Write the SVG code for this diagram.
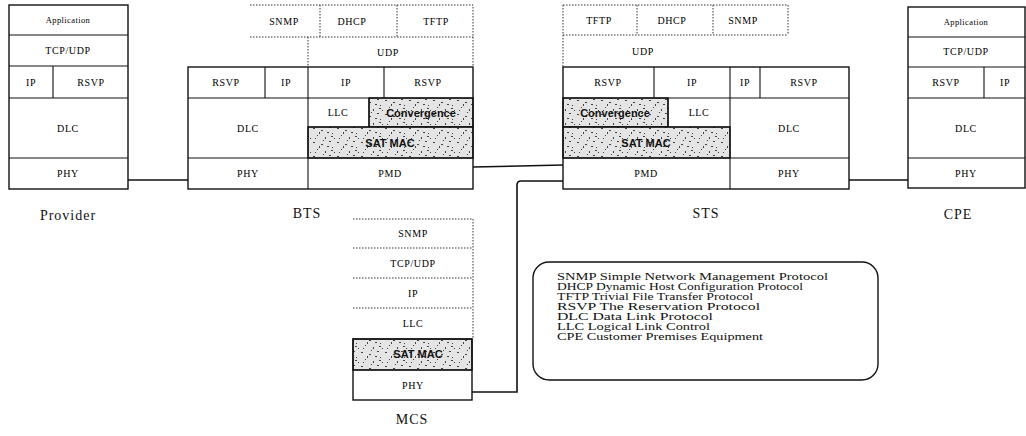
<svg xmlns="http://www.w3.org/2000/svg" width="1026" height="436" viewBox="0 0 1026 436">
<style>
.bx{fill:none;stroke:#111;stroke-width:1.4}
.ln{fill:none;stroke:#111;stroke-width:1.1}
.dt{fill:none;stroke:#333;stroke-width:1;stroke-dasharray:1.5 1.5}
.t{font-family:"Liberation Serif",serif;font-size:10px;fill:#000;text-anchor:middle;letter-spacing:0.6px}
.ts{font-family:"Liberation Serif",serif;font-size:8.5px;fill:#000;text-anchor:middle;letter-spacing:0.4px}
.nm{font-family:"Liberation Serif",serif;font-size:14px;fill:#111;text-anchor:middle;letter-spacing:1px}
.sb{font-family:"Liberation Sans",sans-serif;font-size:11px;font-weight:bold;fill:#111;text-anchor:middle}
.lg{font-family:"Liberation Serif",serif;font-size:11px;fill:#111}
.cn{fill:none;stroke:#111;stroke-width:1.6}
.nz{fill:url(#noise);stroke:#111;stroke-width:1.4}
</style>
<defs>
<pattern id="noise" width="24" height="14" patternUnits="userSpaceOnUse">
<rect width="24" height="14" fill="#e4e4e4"/>
<g fill="#444">
<rect x="1" y="2" width="2" height="1"/><rect x="5" y="9" width="1" height="1"/><rect x="9" y="4" width="2" height="1"/>
<rect x="13" y="11" width="1" height="2"/><rect x="17" y="1" width="2" height="1"/><rect x="20" y="7" width="1" height="1"/>
<rect x="3" y="12" width="1" height="1"/><rect x="11" y="0" width="1" height="1"/><rect x="15" y="6" width="2" height="1"/>
<rect x="22" y="12" width="1" height="1"/><rect x="7" y="6" width="1" height="2"/><rect x="19" y="10" width="2" height="1"/>
</g>
</pattern>
</defs>
<rect width="1026" height="436" fill="#fff"/>

<g id="connectors">
<path class="cn" d="M128 180 H188"/>
<path class="cn" d="M473 167 L563 165"/>
<path class="cn" d="M472 392 H517 V185 Q517 181 521 181 H563"/>
<path class="cn" d="M849 180 H908"/>
</g>

<g id="provider">
<rect class="bx" x="9" y="5" width="119" height="184"/>
<path class="ln" d="M9 35 H128 M9 66 H128 M9 98 H128 M9 158 H128 M53 66 V98"/>
<text class="ts" x="68" y="23">Application</text>
<text class="t" x="68" y="54">TCP/UDP</text>
<text class="t" x="31" y="86">IP</text>
<text class="t" x="91" y="86">RSVP</text>
<text class="t" x="68" y="132">DLC</text>
<text class="t" x="68" y="177">PHY</text>
<text class="nm" x="68" y="220">Provider</text>
</g>

<g id="bts">
<path class="dt" d="M250 5 H473 V67 M250 37 H473 M320 5 V37 M397 5 V37 M308 37 V67"/>
<text class="t" x="284" y="25">SNMP</text>
<text class="t" x="352" y="25">DHCP</text>
<text class="t" x="436" y="25">TFTP</text>
<text class="t" x="388" y="56">UDP</text>
<rect class="nz" x="369" y="98" width="104" height="29"/>
<rect class="nz" x="308" y="127" width="165" height="31"/>
<rect class="bx" x="188" y="67" width="285" height="122"/>
<path class="ln" d="M188 98 H473 M188 158 H473 M265 67 V98 M308 67 V189 M384 67 V98 M369 98 V127 M308 127 H473"/>
<text class="t" x="226" y="86">RSVP</text>
<text class="t" x="286" y="86">IP</text>
<text class="t" x="346" y="86">IP</text>
<text class="t" x="428" y="86">RSVP</text>
<text class="t" x="338" y="116">LLC</text>
<text class="sb" x="421" y="117">Convergence</text>
<text class="t" x="248" y="132">DLC</text>
<text class="sb" x="390" y="147">SAT MAC</text>
<text class="t" x="248" y="177">PHY</text>
<text class="t" x="390" y="177">PMD</text>
<text class="nm" x="307" y="218">BTS</text>
</g>

<g id="sts">
<path class="dt" d="M563 5 H788 V35 M563 5 V67 M563 35 H788 M637 5 V35 M713 5 V35"/>
<text class="t" x="599" y="24">TFTP</text>
<text class="t" x="672" y="24">DHCP</text>
<text class="t" x="743" y="24">SNMP</text>
<text class="t" x="643" y="55">UDP</text>
<rect class="nz" x="563" y="98" width="105" height="29"/>
<rect class="nz" x="563" y="127" width="167" height="31"/>
<rect class="bx" x="563" y="67" width="286" height="122"/>
<path class="ln" d="M563 98 H849 M563 158 H849 M654 67 V98 M730 67 V189 M760 67 V98 M668 98 V127 M563 127 H730"/>
<text class="t" x="608" y="86">RSVP</text>
<text class="t" x="692" y="86">IP</text>
<text class="t" x="745" y="86">IP</text>
<text class="t" x="804" y="86">RSVP</text>
<text class="sb" x="615" y="117">Convergence</text>
<text class="t" x="699" y="116">LLC</text>
<text class="sb" x="646" y="147">SAT MAC</text>
<text class="t" x="789" y="132">DLC</text>
<text class="t" x="646" y="177">PMD</text>
<text class="t" x="789" y="177">PHY</text>
<text class="nm" x="706" y="218">STS</text>
</g>

<g id="cpe">
<rect class="bx" x="908" y="7" width="117" height="181"/>
<path class="ln" d="M908 37 H1025 M908 67 H1025 M908 98 H1025 M908 158 H1025 M984 67 V98"/>
<text class="ts" x="966" y="25">Application</text>
<text class="t" x="966" y="55">TCP/UDP</text>
<text class="t" x="946" y="86">RSVP</text>
<text class="t" x="1005" y="86">IP</text>
<text class="t" x="966" y="132">DLC</text>
<text class="t" x="966" y="177">PHY</text>
<text class="nm" x="958" y="219">CPE</text>
</g>

<g id="mcs">
<path class="dt" d="M353 219 H473 M353 248 H473 M353 278 H473 M353 308 H473 M473 219 V339"/>
<text class="t" x="413" y="237">SNMP</text>
<text class="t" x="413" y="267">TCP/UDP</text>
<text class="t" x="413" y="297">IP</text>
<text class="t" x="413" y="327">LLC</text>
<rect class="nz" x="353" y="339" width="119" height="31"/>
<rect class="bx" x="353" y="339" width="119" height="61"/>
<path class="ln" d="M353 370 H472"/>
<text class="sb" x="418" y="358">SAT MAC</text>
<text class="t" x="413" y="389">PHY</text>
<text class="nm" x="412" y="424">MCS</text>
</g>

<g id="legend">
<rect class="bx" x="533" y="262" width="345" height="118" rx="16"/>
<text class="lg" x="557" y="280" textLength="271" lengthAdjust="spacingAndGlyphs">SNMP  Simple Network Management Protocol</text>
<text class="lg" x="557" y="290" textLength="246" lengthAdjust="spacingAndGlyphs">DHCP  Dynamic Host Configuration Protocol</text>
<text class="lg" x="557" y="300" textLength="196" lengthAdjust="spacingAndGlyphs">TFTP  Trivial File Transfer Protocol</text>
<text class="lg" x="557" y="310" textLength="203" lengthAdjust="spacingAndGlyphs">RSVP  The Reservation Protocol</text>
<text class="lg" x="557" y="320" textLength="156" lengthAdjust="spacingAndGlyphs">DLC  Data Link Protocol</text>
<text class="lg" x="557" y="330" textLength="153" lengthAdjust="spacingAndGlyphs">LLC  Logical Link Control</text>
<text class="lg" x="557" y="340" textLength="206" lengthAdjust="spacingAndGlyphs">CPE  Customer Premises Equipment</text>
</g>
</svg>
